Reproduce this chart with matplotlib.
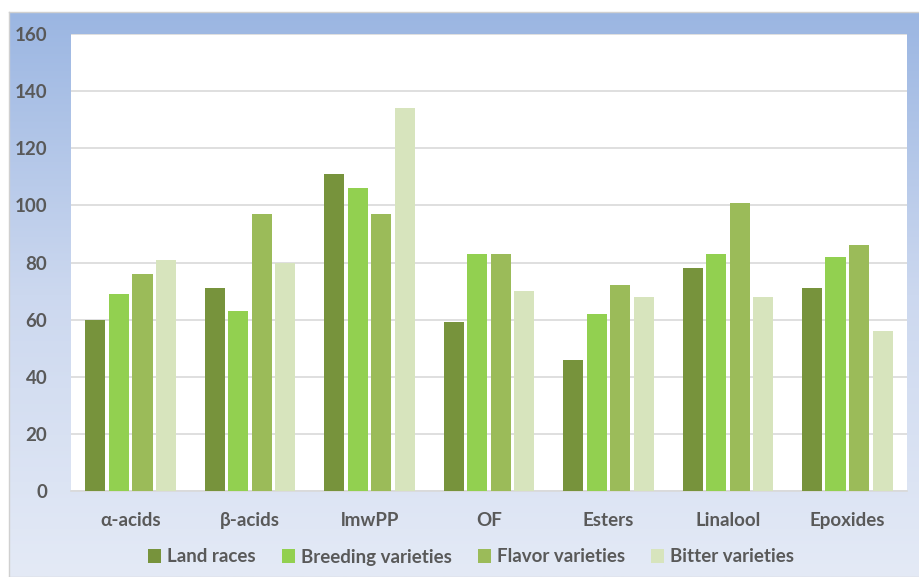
import numpy as np
import matplotlib.pyplot as plt
from matplotlib.colors import LinearSegmentedColormap

categories = ['α-acids', 'β-acids', 'lmwPP', 'OF', 'Esters', 'Linalool', 'Epoxides']
series_names = ['Land races', 'Breeding varieties', 'Flavor varieties', 'Bitter varieties']
land_races = [60, 71, 111, 59, 46, 78, 71]
breeding = [69, 63, 106, 83, 62, 83, 82]
flavor = [76, 97, 97, 83, 72, 101, 86]
bitter = [81, 80, 134, 70, 68, 68, 56]
colors = ['#77933C', '#92D050', '#9BBB59', '#D7E4BD']

plt.rcParams['font.family'] = ['Lato', 'DejaVu Sans']
text_color = '#595959'

fig = plt.figure(figsize=(9.2, 5.77), dpi=100)

# gradient background panel
bg = fig.add_axes([9 / 920, 0, 1 - 9 / 920, (577 - 12) / 577], zorder=-10)
cmap = LinearSegmentedColormap.from_list('bg', ['#E4EAF6', '#CCD8EF', '#9BB6E2'])
grad = np.linspace(0, 1, 256).reshape(-1, 1)
bg.imshow(grad, aspect='auto', cmap=cmap, origin='lower', extent=[0, 1, 0, 1])
bg.set_xticks([])
bg.set_yticks([])
for s in bg.spines.values():
    s.set_color('#D0D0D0')
    s.set_linewidth(1)

ax = fig.add_axes([71 / 920, (577 - 491) / 577, (907 - 71) / 920, (491 - 34) / 577])
ax.set_facecolor('white')

x = np.arange(len(categories))
slot = 0.197
width = 0.168
for i, (vals, name, c) in enumerate(zip([land_races, breeding, flavor, bitter], series_names, colors)):
    ax.bar(x + (i - 1.5) * slot, vals, width, color=c, label=name, zorder=3)

ax.set_xlim(-0.5, len(categories) - 0.5)
ax.set_ylim(0, 160)
ax.set_yticks(range(0, 161, 20))
ax.grid(axis='y', color='#D9D9D9', linewidth=1.2, zorder=0)
for s in ['top', 'right', 'left']:
    ax.spines[s].set_visible(False)
ax.spines['bottom'].set_color('#D9D9D9')
ax.spines['bottom'].set_linewidth(1.2)
ax.tick_params(length=0)
ax.tick_params(axis='y', pad=17)
ax.tick_params(axis='x', pad=15)
ax.set_xticks(x)
ax.set_xticklabels(categories)
for lab in ax.get_xticklabels() + ax.get_yticklabels():
    lab.set_fontsize(13.5)
    lab.set_fontweight('bold')
    lab.set_color(text_color)

handles, labels = ax.get_legend_handles_labels()
leg = fig.legend(handles, labels, loc='center', bbox_to_anchor=(0.512, 1 - 557 / 577), ncol=4,
                 frameon=False, handlelength=0.7, handleheight=0.7, handletextpad=0.3,
                 columnspacing=1.4, prop={'size': 13.5, 'weight': 'bold'})
for t in leg.get_texts():
    t.set_color(text_color)

fig.savefig('out.png', dpi=100)
